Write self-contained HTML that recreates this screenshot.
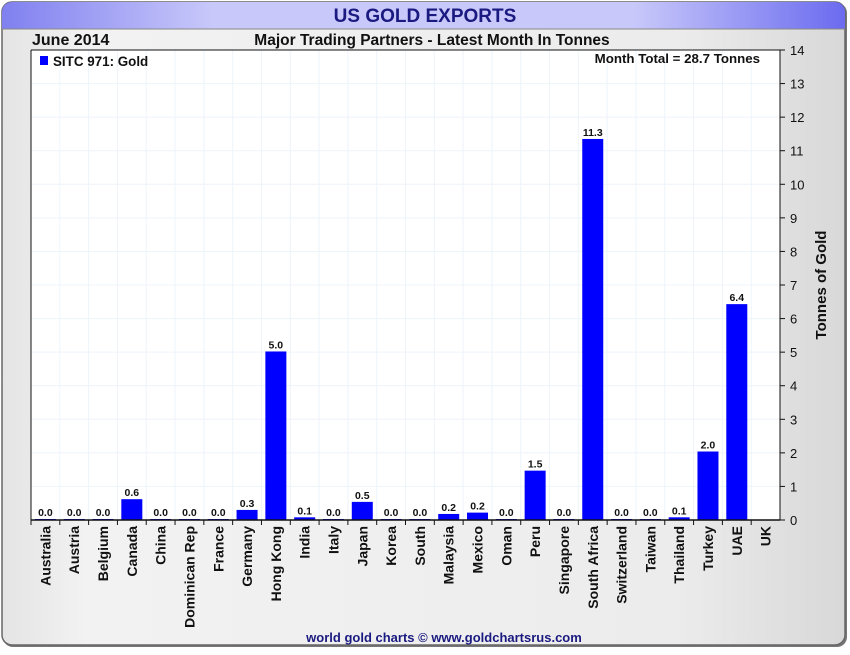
<!DOCTYPE html>
<html><head><meta charset="utf-8">
<style>
body{margin:0;width:850px;height:650px;overflow:hidden;background:#fff;font-family:"Liberation Sans",sans-serif;}
</style></head>
<body>
<svg id="chart" width="850" height="650" xmlns="http://www.w3.org/2000/svg">
<defs>
<linearGradient id="bg" x1="0" x2="1" y1="0" y2="0"><stop offset="0" stop-color="#e4e4e4"/><stop offset="0.1" stop-color="#f2f2f2"/><stop offset="0.8" stop-color="#ececec"/><stop offset="1" stop-color="#d8d8d8"/></linearGradient>
<linearGradient id="tb" x1="0" x2="1" y1="0" y2="0"><stop offset="0" stop-color="#8080f0"/><stop offset="0.25" stop-color="#c8c8fa"/><stop offset="0.75" stop-color="#c8c8fa"/><stop offset="1" stop-color="#6b6bf0"/></linearGradient>
<clipPath id="fr"><rect x="2" y="2" width="843" height="643" rx="10"/></clipPath>
</defs>
<rect x="3" y="3" width="844" height="644" rx="10" fill="#777"/>
<rect x="2" y="2" width="843" height="643" rx="10" fill="url(#bg)" stroke="#666" stroke-width="1.5"/>
<rect x="2" y="2" width="843" height="27" fill="url(#tb)" clip-path="url(#fr)"/>
<line x1="2" y1="29" x2="845" y2="29" stroke="#888" stroke-width="1"/>
<text x="425" y="22" text-anchor="middle" font-size="19" font-weight="bold" fill="#1a1a80">US GOLD EXPORTS</text>
<text x="32" y="45" font-size="16" font-weight="bold" fill="#111">June 2014</text>
<text x="432" y="45" text-anchor="middle" font-size="15.5" font-weight="bold" fill="#111">Major Trading Partners - Latest Month In Tonnes</text>
<rect x="31" y="50" width="749" height="470" fill="#fff"/>
<g id="grid"></g>
<g id="bars"></g>
<g id="axes"></g>
<rect x="40" y="56" width="8" height="9" fill="#0000ff"/>
<text x="53" y="66" font-size="13.4" fill="#111" font-weight="bold">SITC 971: Gold</text>
<text x="760" y="63" text-anchor="end" font-size="13.3" font-weight="bold" fill="#111">Month Total = 28.7 Tonnes</text>
<text transform="translate(826,285) rotate(-90)" text-anchor="middle" font-size="15" font-weight="bold" fill="#111">Tonnes of Gold</text>
<text x="444" y="642" text-anchor="middle" font-size="13" font-weight="bold" fill="#1a1a80">world gold charts © www.goldchartsrus.com</text>
</svg>
<script>
const categories=["Australia","Austria","Belgium","Canada","China","Dominican Rep","France","Germany","Hong Kong","India","Italy","Japan","Korea","South","Malaysia","Mexico","Oman","Peru","Singapore","South Africa","Switzerland","Taiwan","Thailand","Turkey","UAE","UK"];
const values=[0.03,0.03,0.03,0.62,0.03,0.0,0.03,0.3,5.02,0.08,0.0,0.54,0.03,0.03,0.18,0.22,0.0,1.47,0.0,11.35,0.03,0.03,0.08,2.04,6.43,null];
const yTicks=[0,1,2,3,4,5,6,7,8,9,10,11,12,13,14];
const NS="http://www.w3.org/2000/svg";
const L=31,R=780,T=50,B=520,YMAX=14;
const slot=(R-L)/categories.length;
function y(v){return B-(v/YMAX)*(B-T);}
function x(i){return L+i*slot;}
function mk(tag,attrs,parent){const e=document.createElementNS(NS,tag);for(const k in attrs)e.setAttribute(k,attrs[k]);parent.appendChild(e);return e;}
const grid=document.getElementById('grid'),bars=document.getElementById('bars'),axes=document.getElementById('axes');
yTicks.forEach(t=>{
  if(t>0&&t<YMAX){const g=mk('line',{x1:L,x2:R,y1:y(t),y2:y(t),stroke:'#edf4fa','stroke-width':1},grid);
  
  }
  const tk=mk('line',{x1:R,x2:R+5,y1:y(t),y2:y(t),stroke:'#111'},axes);
  
  
  const lb=mk('text',{x:R+10,y:y(t)+5,'font-size':13,fill:'#111'},axes);
  lb.textContent=t;
  
  
});
categories.forEach((c,i)=>{
  if(i>0){const g=mk('line',{x1:x(i),x2:x(i),y1:T,y2:B,stroke:'#edf4fa'},grid);
  
  }
  const tk=mk('line',{x1:x(i),x2:x(i),y1:B,y2:B+5,stroke:'#111'},axes);
  
  
  const cx=x(i)+slot/2;
  const lb=mk('text',{transform:`translate(${cx+5},${B+6}) rotate(-90)`,'text-anchor':'end','font-size':14,'font-weight':'bold',fill:'#111'},axes);
  lb.textContent=c;
  
  
  const v=values[i];
  if(v!==null){
    const h=Math.max(B-y(v),1);
    const r=mk('rect',{x:cx-10.5,y:B-h,width:21,height:h,fill:'#0000ff'},bars);
    
    
    const vl=mk('text',{x:cx,y:B-h-3,'text-anchor':'middle','font-size':10.5,'font-weight':'bold',fill:'#111'},bars);
    vl.textContent=v.toFixed(1);
    
    
  }
});
mk('line',{x1:L,x2:L,y1:T,y2:B,stroke:'#111'},axes);
mk('line',{x1:L,x2:R,y1:T,y2:T,stroke:'#111'},axes);
mk('line',{x1:R,x2:R,y1:T,y2:B,stroke:'#111'},axes);
mk('line',{x1:L,x2:R,y1:B,y2:B,stroke:'#111','stroke-width':1.5},axes);
</script>
</body></html>
